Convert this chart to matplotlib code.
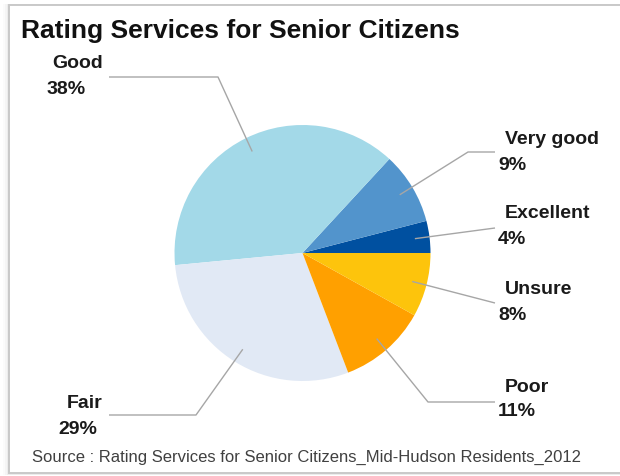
import numpy as np
import matplotlib.pyplot as plt
from matplotlib.patches import Rectangle

plt.rcParams['font.family'] = ['Liberation Sans', 'DejaVu Sans']

# survey answers, counter-clockwise from 3 o'clock
categories = ['Excellent', 'Very good', 'Good', 'Fair', 'Poor', 'Unsure']
shares = [4, 9, 38, 29, 11, 8]
colors = ['#0050a0', '#5294cc', '#a3d9e8', '#e1e9f5', '#ffa000', '#fdc40c']

title = 'Rating Services for Senior Citizens'
source = 'Source : Rating Services for Senior Citizens_Mid-Hudson Residents_2012'

W, H = 620, 476
CX, CY, R = 302.5, 253.0, 128.0


def px(x, y):
    """pixel position (from top-left) -> pie data units"""
    return (x - CX) / R, (CY - y) / R


def frac_box(x0, y0, x1, y1, **kw):
    """rectangle given in top-left pixel coords, drawn in figure fractions"""
    return Rectangle((x0 / W, 1 - y1 / H), (x1 - x0) / W, (y1 - y0) / H,
                     transform=fig.transFigure, **kw)


# label layout in pixels: (name x, name y, pct x, pct y, align, leader bend/end points)
layout = {
    'Excellent': (505, 214, 498, 240, 'left', [(495, 228)]),
    'Very good': (505, 139, 498, 165, 'left', [(468, 152), (495, 152)]),
    'Good': (52, 63, 47, 89, 'left', [(218, 77), (109, 77)]),
    'Fair': (102, 404, 97, 429, 'right', [(196, 415), (109, 415)]),
    'Poor': (505, 387, 498, 412, 'left', [(428, 402), (495, 402)]),
    'Unsure': (505, 290, 498, 316, 'left', [(495, 303)]),
}

fig = plt.figure(figsize=(W / 100, H / 100), dpi=100)

# card frame: faint shadow on the left, thin grey border
for i, a in enumerate([0.015, 0.025, 0.035]):
    fig.add_artist(frac_box(3 + 2 * i, 4, 640, 474.5, facecolor='black',
                            edgecolor='none', alpha=a, zorder=0))
fig.add_artist(frac_box(9, 4.5, 640, 473, facecolor='white',
                        edgecolor='#c9c9c9', lw=1.4, zorder=1))

ax = fig.add_axes([0, 0, 1, 1], zorder=2)
ax.patch.set_visible(False)

wedges, _ = ax.pie(shares, colors=colors, startangle=0, counterclock=True,
                   radius=1.0, center=(0, 0), frame=True,
                   wedgeprops=dict(linewidth=0))
ax.set_xlim(-CX / R, (W - CX) / R)
ax.set_ylim(-(H - CY) / R, CY / R)
ax.axis('off')

for w, name, val in zip(wedges, categories, shares):
    nx, ny, vx, vy, ha, pts = layout[name]
    mid = np.deg2rad((w.theta1 + w.theta2) / 2)
    xs = [0.885 * np.cos(mid)] + [px(*p)[0] for p in pts]
    ys = [0.885 * np.sin(mid)] + [px(*p)[1] for p in pts]
    ax.plot(xs, ys, color='#a6a6a6', lw=1.0, solid_capstyle='butt')
    ax.text(*px(nx, ny), name, ha=ha, va='center', fontsize=14,
            fontweight='bold', color='#1a1a1a')
    ax.text(*px(vx, vy), f'{val}%', ha=ha, va='center', fontsize=14,
            fontweight='bold', color='#1a1a1a')

fig.text(21 / W, 1 - 31 / H, title, ha='left', va='center', fontsize=19,
         fontweight='bold', color='#111111', zorder=3)
fig.text(32 / W, 1 - 457 / H, source, ha='left', va='center', fontsize=12,
         color='#404040', zorder=3)

fig.savefig('out.png', dpi=100)
